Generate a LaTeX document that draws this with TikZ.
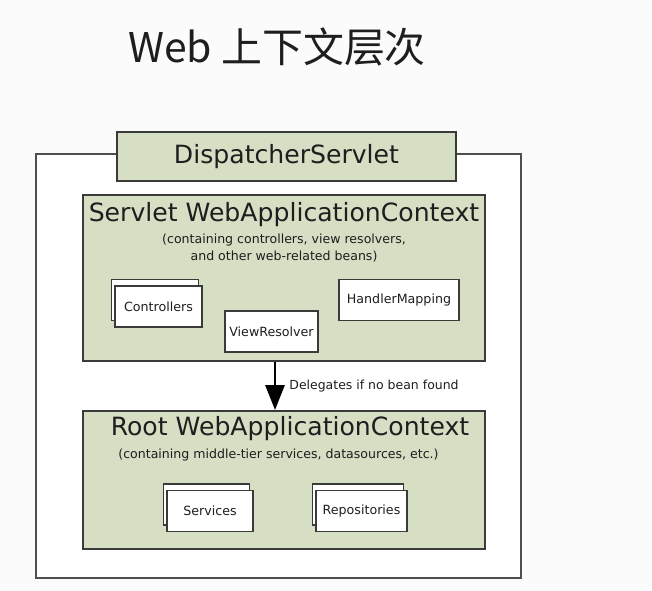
\documentclass[tikz,border=0pt]{standalone}
\usepackage{fontspec}
\setmainfont{DejaVu Sans}
\newfontfamily\cjkfont{Noto Sans CJK SC}
\usepackage{tikz}
\usetikzlibrary{arrows.meta,positioning,shadows}
\definecolor{sage}{HTML}{D6DEC4}
\definecolor{edge}{HTML}{3A3A3A}
\definecolor{ink}{HTML}{1E1E1E}
\definecolor{paper}{HTML}{FBFBFB}
\tikzset{
  ctxbox/.style={
    rectangle, draw=edge, fill=sage, line width=1.1pt,
    minimum width=#1, inner sep=0pt
  },
  ctxbox/.default=8.04cm,
  beanbox/.style={
    rectangle, draw=edge, fill=white, line width=0.7pt,
    minimum height=0.82cm, font=\fontsize{7.2}{9}\selectfont,
    text=ink, inner sep=2pt
  },
  stackbox/.style={
    beanbox,
    copy shadow={shadow xshift=-0.07cm, shadow yshift=0.13cm}
  },
  ctxtitle/.style={
    font=\fontsize{14.3}{16}\selectfont, text=ink, inner sep=0pt
  },
  ctxnote/.style={
    font=\fontsize{7.15}{9.3}\selectfont, text=ink, align=center,
    inner sep=0pt
  },
  delegate/.style={
    -{Triangle[length=0.5cm,width=0.38cm]}, line width=1.6pt, color=black
  },
}
\begin{document}
\begin{tikzpicture}[x=0.02cm, y=-0.02cm]
  \useasboundingbox[fill=paper] (0,0) rectangle (652,591);

  \node[font=\cjkfont\fontsize{23.3}{25}\selectfont, text=ink] (title)
    at (277,47) {Web 上下文层次};

  % outer frame and servlet
  \node[rectangle, draw=edge!90, fill=white, line width=0.8pt,
    minimum width=9.7cm, minimum height=8.48cm] (outer) at (278.5,366) {};
  \node[ctxbox=6.78cm, minimum height=0.98cm,
    font=\fontsize{14.3}{16}\selectfont, text=ink]
    (dispatcher) at (286.5,156.5) {DispatcherServlet};

  % Servlet context
  \node[ctxbox, minimum height=3.32cm] (servlet) at (284,278) {};
  \node[ctxtitle] (servlettitle) at (284,215) {Servlet WebApplicationContext};
  \node[ctxnote, below=0.13cm of servlettitle] (servletnote)
    {(containing controllers, view resolvers,\\and other web-related beans)};

  \node[stackbox, minimum width=1.74cm] (controllers) at (158.5,306.5) {Controllers};
  \node[beanbox, minimum width=1.86cm] (viewresolver) at (271.5,331.5) {ViewResolver};
  \node[beanbox, minimum width=2.4cm] (handlermapping) at (399,300) {HandlerMapping};

  % Root context
  \node[ctxbox, minimum height=2.76cm] (root) at (284,480) {};
  \node[ctxtitle] (roottitle) at (290,429) {Root WebApplicationContext};
  \node[ctxnote, below=0.15cm of roottitle, xshift=-0.23cm] (rootnote)
    {(containing middle-tier services, datasources, etc.)};

  \node[stackbox, minimum width=1.72cm] (services) at (210,511) {Services};
  \node[stackbox, minimum width=1.82cm] (repositories) at (361.5,511) {Repositories};

  \draw[delegate] ([xshift=-0.18cm]servlet.south) -- ([xshift=-0.18cm]root.north)
    node[midway, right=0.26cm, inner sep=0pt, text=ink,
      font=\fontsize{7.1}{8}\selectfont] (delegatelabel) {Delegates if no bean found};
\end{tikzpicture}
\end{document}
